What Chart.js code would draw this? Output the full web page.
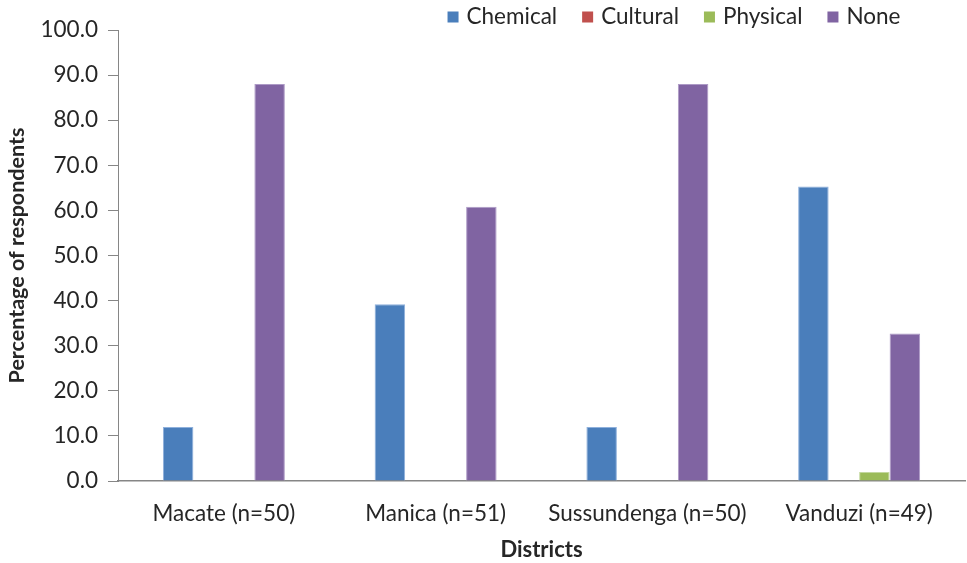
<!DOCTYPE html>
<html>
<head>
<meta charset="utf-8">
<script src="https://cdn.jsdelivr.net/npm/chart.js@4/dist/chart.umd.min.js"></script>
<style>
  html, body { margin: 0; padding: 0; background: #ffffff; }
  #wrap { width: 967px; height: 563px; position: relative; }
</style>
</head>
<body>
<div id="wrap"><canvas id="c" width="967" height="563"></canvas></div>
<script>
// Districts surveyed (sample size in brackets)
const districts = ['Macate (n=50)', 'Manica (n=51)', 'Sussundenga (n=50)', 'Vanduzi (n=49)'];

// Percentage of respondents per control method
const chemical = [12.0, 39.2, 12.0, 65.3];
const cultural = [0.0, 0.0, 0.0, 0.0];
const physical = [0.0, 0.0, 0.0, 2.0];
const none     = [88.0, 60.8, 88.0, 32.7];

const seriesNames = ['Chemical', 'Cultural', 'Physical', 'None'];
const yMin = 0, yMax = 100, yStep = 10;

const FONT = 'Lato, "Liberation Sans", sans-serif';
const FONT_SIZE = 22.5;
const AXIS_GREY = '#868686';
const TEXT = '#262626';

// Legend drawn in a single row above the plot, shifted right of centre
const topLegend = {
  id: 'topLegend',
  afterDraw(chart) {
    const ctx = chart.ctx;
    ctx.save();
    ctx.font = `${FONT_SIZE}px ${FONT}`;
    ctx.textBaseline = 'middle';
    ctx.textAlign = 'left';
    const box = 11, gapBox = 8, gapItem = 25;
    const items = chart.data.datasets.map(d => ({
      text: d.label, color: d.backgroundColor, w: ctx.measureText(d.label).width
    }));
    const total = items.reduce((s, it) => s + box + gapBox + it.w, 0) + gapItem * (items.length - 1);
    let x = 674 - total / 2;
    const y = 17;
    items.forEach(it => {
      ctx.fillStyle = it.color;
      ctx.fillRect(x, y - box / 2, box, box);
      x += box + gapBox;
      ctx.fillStyle = TEXT;
      ctx.fillText(it.text, x, y);
      x += it.w + gapItem;
    });
    ctx.restore();
  }
};

const colors = ['#4a7ebb', '#c0504d', '#9bbb59', '#8064a2'];
const borders = ['#8eb0dc', '#dc8e8c', '#c3d89f', '#ad9ac6'];
const values = [chemical, cultural, physical, none];

new Chart(document.getElementById('c'), {
  type: 'bar',
  data: {
    labels: districts,
    datasets: seriesNames.map((name, i) => ({
      label: name,
      data: values[i],
      backgroundColor: colors[i],
      borderColor: borders[i],
      borderWidth: 1,
      categoryPercentage: 0.576,
      barPercentage: 1.0
    }))
  },
  options: {
    responsive: false,
    devicePixelRatio: 1,
    animation: false,
    layout: { padding: { top: 30, left: 4, right: 2, bottom: 0 } },
    plugins: {
      legend: { display: false },
      tooltip: { enabled: false }
    },
    scales: {
      x: {
        grid: { display: false, drawTicks: false },
        border: { display: true, color: AXIS_GREY, width: 1.5 },
        ticks: { color: TEXT, font: { family: FONT, size: FONT_SIZE }, padding: 19, maxRotation: 0 },
        title: { display: true, text: 'Districts', color: TEXT,
                 font: { family: FONT, size: 22, weight: 'bold' }, padding: { top: 0, bottom: 0 } },
        afterFit(scale) { scale.height = 82; }
      },
      y: {
        min: yMin, max: yMax,
        grid: { display: true, drawOnChartArea: false, drawTicks: true, tickLength: 10, color: AXIS_GREY },
        border: { display: true, color: AXIS_GREY, width: 1 },
        ticks: { stepSize: yStep, color: TEXT, font: { family: FONT, size: FONT_SIZE }, padding: 10,
                 callback: v => v.toFixed(1) },
        title: { display: true, text: 'Percentage of respondents', color: TEXT,
                 font: { family: FONT, size: 21.5, weight: 'bold' }, padding: { top: 0, bottom: 4 } },
        afterFit(scale) { scale.width = 114; }
      }
    }
  },
  plugins: [topLegend]
});
</script>
</body>
</html>
